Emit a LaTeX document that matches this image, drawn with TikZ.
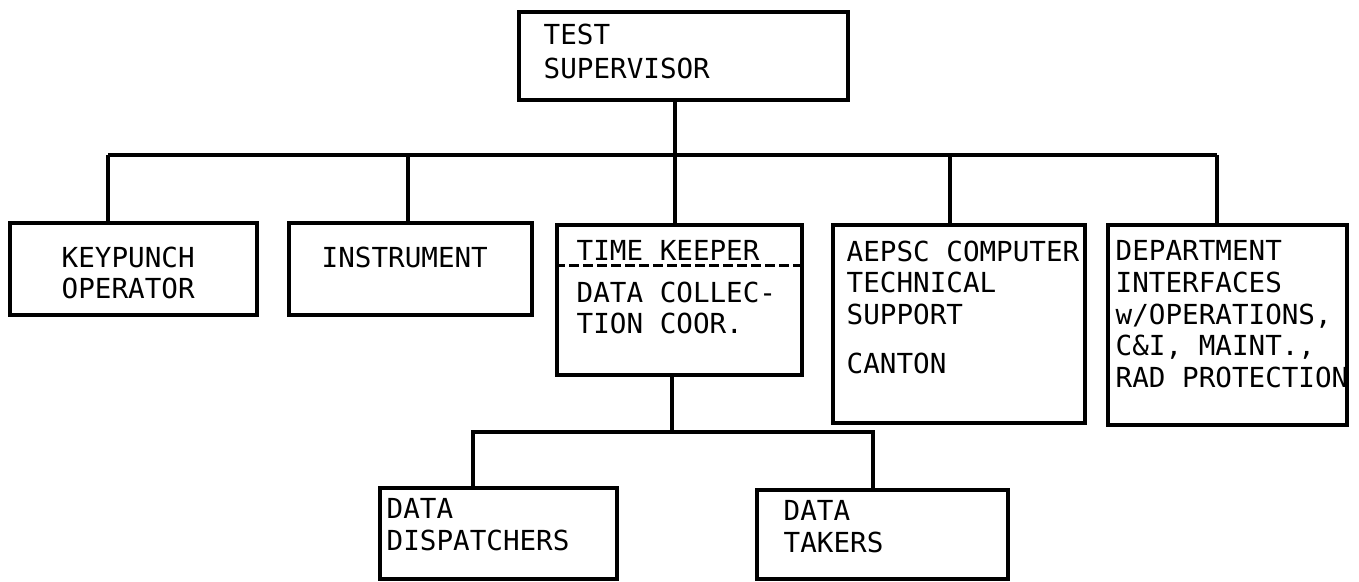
\documentclass[tikz,border=0pt]{standalone}
\usepackage{fontspec}
\setmonofont{DejaVu Sans Mono}
\usetikzlibrary{positioning}

\begin{document}
\begin{tikzpicture}[
    x=0.5pt, y=-0.5pt,
    box/.style={rectangle, draw, line width=1.7pt, inner sep=0pt},
    txt/.style={inner sep=0pt, align=left, font=\ttfamily\fontsize{13.8}{15.8}\selectfont},
    link/.style={line width=1.7pt}
]
    \fill[white] (0,0) rectangle (1359,582);
    \useasboundingbox (0,0) rectangle (1359,582);

    % boxes
    \node[box, minimum width=164.5pt, minimum height=44pt] (sup) at (683.5,56) {};
    \node[box, minimum width=123.5pt, minimum height=46pt] (keyp) at (133.5,269) {};
    \node[box, minimum width=121.5pt, minimum height=46pt] (instr) at (410.5,269) {};
    \node[box, minimum width=122.5pt, minimum height=75pt] (timek) at (679.5,300) {};
    \node[box, minimum width=126pt, minimum height=99pt] (aepsc) at (959,324) {};
    \node[box, minimum width=119.5pt, minimum height=100pt] (dept) at (1227.5,325) {};
    \node[box, minimum width=118.5pt, minimum height=45.5pt] (disp) at (498.5,533.5) {};
    \node[box, minimum width=125.5pt, minimum height=44.5pt] (takers) at (882.5,534.5) {};

    % texts
    \node[txt, font=\ttfamily\fontsize{13.8}{17}\selectfont, below right=6.5pt and 13pt of sup.north west] (sup-txt) {TEST\\SUPERVISOR};
    \node[txt, below right=12.5pt and 26.5pt of keyp.north west] (keyp-txt) {KEYPUNCH\\OPERATOR};
    \node[txt, below right=12.5pt and 17pt of instr.north west] (instr-txt) {INSTRUMENT};
    \node[txt, below right=8.5pt and 10.5pt of timek.north west] (timek-txt) {TIME KEEPER};
    \node[txt, below right=29pt and 10.5pt of timek.north west] (coll-txt) {DATA COLLEC-\\TION COOR.};
    \node[txt, below right=8.5pt and 7.5pt of aepsc.north west] (aepsc-txt) {AEPSC COMPUTER\\TECHNICAL\\SUPPORT\\[9pt]CANTON};
    \node[txt, below right=8.5pt and 4.5pt of dept.north west] (dept-txt) {DEPARTMENT\\INTERFACES\\w/OPERATIONS,\\C\&I, MAINT.,\\RAD PROTECTION};
    \node[txt, below right=6pt and 4pt of disp.north west] (disp-txt) {DATA\\DISPATCHERS};
    \node[txt, below right=6pt and 14pt of takers.north west] (takers-txt) {DATA\\TAKERS};

    % dashed divider in the time keeper box
    \path (timek.north west) ++(0,42) coordinate (divL);
    \draw[line width=1.3pt, dash pattern=on 5pt off 2pt] (divL) -- (divL -| timek.east);

    % upper bus
    \coordinate (busL) at (108,155);
    \coordinate (busR) at (1217,155);
    \coordinate (trunk) at (675,155);
    \coordinate (dropI) at (408,155);
    \coordinate (dropA) at (950,155);
    \draw[link] (busL) -- (busR);
    \draw[link] (sup.south -| trunk) -- (timek.north -| trunk);
    \draw[link] (busL) -- (keyp.north -| busL);
    \draw[link] (dropI) -- (instr.north -| dropI);
    \draw[link] (dropA) -- (aepsc.north -| dropA);
    \draw[link] (busR) -- (dept.north -| busR);

    % lower bus
    \coordinate (subL) at (473,432);
    \coordinate (subR) at (873,432);
    \coordinate (subT) at (672,432);
    \draw[link] (timek.south -| subT) -- (subT);
    \draw[link] (disp.north -| subL) -- (subL) -- (subR) -- (takers.north -| subR);
\end{tikzpicture}
\end{document}
